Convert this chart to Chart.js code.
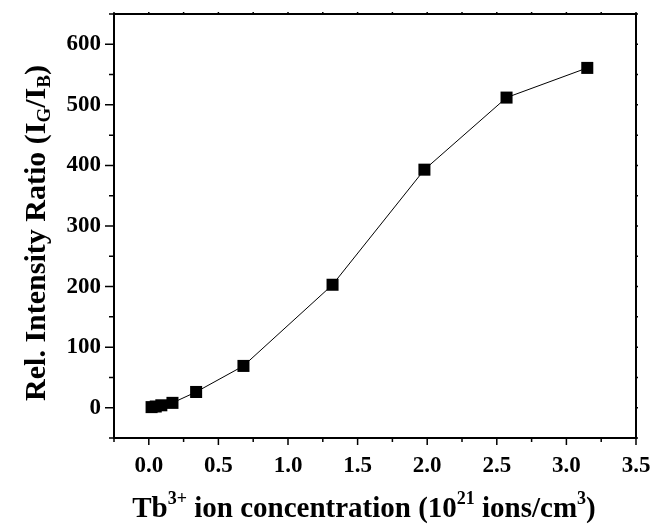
<!DOCTYPE html>
<html>
<head>
<meta charset="utf-8">
<script src="https://cdn.jsdelivr.net/npm/chart.js@4"></script>
<style>
  body { margin: 0; background: #fff; }
  #wrap { width: 654px; height: 529px; }
</style>
</head>
<body>
<div id="wrap"><canvas id="ratioChart"></canvas></div>
<script>
// Tb3+ concentration (10^21 ions/cm3) vs relative intensity ratio IG/IB
const concentration = [0.02, 0.05, 0.09, 0.17, 0.34, 0.68, 1.32, 1.98, 2.57, 3.15];
const ratio = [1, 2, 4, 8, 26, 69, 203, 393, 512, 561];
const xTickValues = [0, 0.5, 1.0, 1.5, 2.0, 2.5, 3.0, 3.5];
const yTickValues = [0, 100, 200, 300, 400, 500, 600];

const tickFont = { family: 'Liberation Serif', size: 23, weight: 'bold' };

function drawRich(ctx, parts, cx, y) {
    // parts: [text, size, dy]
    let total = 0;
    parts.forEach(p => {
        ctx.font = 'bold ' + p[1] + 'px "Liberation Serif"';
        p.w = ctx.measureText(p[0]).width;
        total += p.w;
    });
    let x = cx - total / 2;
    parts.forEach(p => {
        ctx.font = 'bold ' + p[1] + 'px "Liberation Serif"';
        ctx.fillText(p[0], x, y + p[2]);
        x += p.w;
    });
}

const framePlugin = {
    id: 'frame',
    afterDraw(chart) {
        const ctx = chart.ctx;
        const a = chart.chartArea;
        const xs = chart.scales.x, ys = chart.scales.y;
        ctx.save();
        ctx.strokeStyle = '#000';
        ctx.fillStyle = '#000';

        // frame
        ctx.lineWidth = 2;
        ctx.strokeRect(a.left, a.top, a.right - a.left, a.bottom - a.top);

        // x ticks (every 0.25, major every 0.5)
        ctx.lineWidth = 1.5;
        ctx.beginPath();
        for (let v = -0.25; v <= 3.5001; v += 0.25) {
            const px = xs.getPixelForValue(v);
            const major = Math.abs(v * 2 - Math.round(v * 2)) < 1e-6;
            ctx.moveTo(px, a.bottom);
            ctx.lineTo(px, a.bottom + (major ? 7 : 4));
            ctx.moveTo(px, a.top);
            ctx.lineTo(px, a.top - 2);
        }
        // y ticks (every 50, major every 100)
        for (let v = -50; v <= 650; v += 50) {
            const py = ys.getPixelForValue(v);
            const major = v % 100 === 0;
            ctx.moveTo(a.left, py);
            ctx.lineTo(a.left - (major ? 9 : 5), py);
            ctx.moveTo(a.right, py);
            ctx.lineTo(a.right + 2, py);
        }
        ctx.stroke();

        // axis titles
        ctx.textBaseline = 'alphabetic';
        drawRich(ctx, [
            ['Tb', 29, 0], ['3+', 18, -13], [' ion concentration (10', 29, 0],
            ['21', 18, -13], [' ions/cm', 29, 0], ['3', 18, -13], [')', 29, 0]
        ], 364, 517);

        ctx.translate(45, 233);
        ctx.rotate(-Math.PI / 2);
        drawRich(ctx, [
            ['Rel. Intensity Ratio (I', 30, 0], ['G', 19, 5], ['/I', 30, 0],
            ['B', 19, 5], [')', 30, 0]
        ], 0, 0);
        ctx.restore();
    }
};

new Chart(document.getElementById('ratioChart'), {
    type: 'scatter',
    data: {
        datasets: [{
            data: concentration.map((c, i) => ({ x: c, y: ratio[i] })),
            showLine: true,
            borderColor: '#000',
            borderWidth: 1,
            backgroundColor: '#000',
            pointStyle: 'rect',
            pointRadius: 8.5,
            pointBorderWidth: 0
        }]
    },
    options: {
        responsive: true,
        maintainAspectRatio: false,
        animation: false,
        layout: { padding: { left: 0, right: 18, top: 14, bottom: 0 } },
        plugins: {
            legend: { display: false },
            tooltip: { enabled: false }
        },
        scales: {
            x: {
                type: 'linear',
                min: -0.25,
                max: 3.5,
                afterBuildTicks: s => { s.ticks = xTickValues.map(v => ({ value: v })); },
                afterFit: s => { s.height = 91; s.paddingLeft = 0; s.paddingRight = 0; },
                ticks: {
                    font: tickFont,
                    color: '#000',
                    padding: 14,
                    maxRotation: 0,
                    autoSkip: false,
                    callback: v => v.toFixed(1)
                },
                grid: { display: false, drawTicks: false },
                border: { display: false }
            },
            y: {
                min: -50,
                max: 650,
                afterBuildTicks: s => { s.ticks = yTickValues.map(v => ({ value: v })); },
                afterFit: s => { s.width = 114; s.paddingTop = 0; s.paddingBottom = 0; },
                ticks: {
                    font: tickFont,
                    color: '#000',
                    padding: 13,
                    autoSkip: false,
                    callback: v => v
                },
                grid: { display: false, drawTicks: false },
                border: { display: false }
            }
        }
    },
    plugins: [framePlugin]
});
</script>
</body>
</html>
